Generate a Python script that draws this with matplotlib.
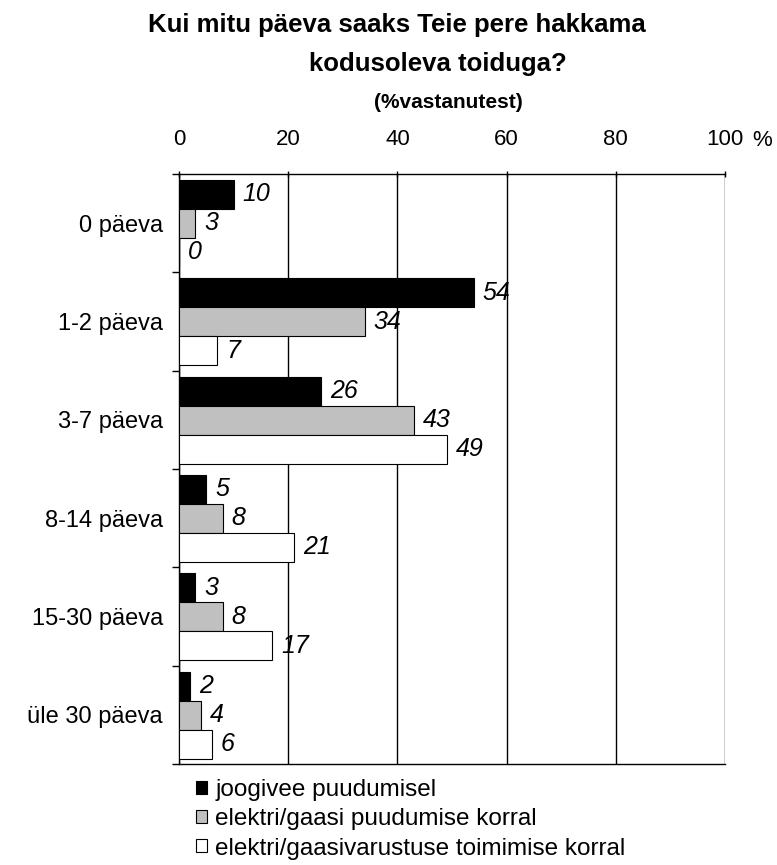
import matplotlib.pyplot as plt
import numpy as np
from matplotlib.patches import Patch

plt.rcParams['font.family'] = ['Liberation Sans', 'DejaVu Sans']

categories = ["0 päeva", "1-2 päeva", "3-7 päeva", "8-14 päeva", "15-30 päeva", "üle 30 päeva"]
series_names = ["joogivee puudumisel",
                "elektri/gaasi puudumise korral",
                "elektri/gaasivarustuse toimimise korral"]
joogivesi = [10, 54, 26, 5, 3, 2]
elekter_puudub = [3, 34, 43, 8, 8, 4]
elekter_toimib = [0, 7, 49, 21, 17, 6]
ticks = [0, 20, 40, 60, 80, 100]


def main():
    fig = plt.figure(figsize=(7.77, 8.65), dpi=100)
    ax = fig.add_axes([0.2304, 0.1168, 0.7027, 0.682])

    series = [joogivesi, elekter_puudub, elekter_toimib]
    colors = ['#000000', '#c0c0c0', '#ffffff']
    n = len(categories)
    h = 0.295
    start = 0.06
    for i, vals in enumerate(series):
        y = np.arange(n) + start + i * h + h / 2
        ax.barh(y, vals, height=h, color=colors[i], edgecolor='#000000', linewidth=0.8,
                zorder=3)
        for yy, v in zip(y, vals):
            ax.annotate(str(v), xy=(v, yy), xytext=(6.5, 0), textcoords='offset points',
                        va='center', ha='left', fontsize=18, style='italic', zorder=4)

    ax.set_xlim(0, 100)
    ax.set_ylim(n, 0)
    ax.xaxis.tick_top()
    ax.set_xticks(ticks)
    ax.set_xticklabels([str(t) for t in ticks], fontsize=16)
    ax.tick_params(axis='x', length=5, width=1, pad=15, direction='inout')
    ax.set_yticks(np.arange(n + 1))
    ax.set_yticklabels([])
    ax.set_yticks(np.arange(n) + 0.5, minor=True)
    ax.set_yticklabels(categories, minor=True, fontsize=17)
    ax.tick_params(axis='y', which='major', length=5, width=1, direction='out')
    ax.tick_params(axis='y', which='minor', length=0, pad=11.5)
    ax.grid(axis='x', color='#000000', linewidth=1, zorder=1)
    for s in ['left', 'right', 'top', 'bottom']:
        ax.spines[s].set_linewidth(1)
    ax.spines['right'].set_visible(False)

    fig.text(762 / 777, 1 - 141 / 865, "%", ha='center', va='center', fontsize=16)
    fig.text(397 / 777, 1 - 25 / 865, "Kui mitu päeva saaks Teie pere hakkama",
             ha='center', va='center', fontsize=18.5, fontweight='bold')
    fig.text(438 / 777, 1 - 64 / 865, "kodusoleva toiduga?",
             ha='center', va='center', fontsize=18.5, fontweight='bold')
    fig.text(448 / 777, 1 - 103 / 865, "(%vastanutest)", ha='center', va='center',
             fontsize=15, fontweight='bold')

    handles = [Patch(facecolor=c, edgecolor='#000000', linewidth=0.8) for c in colors]
    fig.legend(handles, series_names, loc='upper left', bbox_to_anchor=(196 / 777, 1 - 779 / 865),
               frameon=False, fontsize=17.5, handlelength=0.45, handleheight=0.45,
               handletextpad=0.35, labelspacing=0.3, borderaxespad=0, borderpad=0)

    fig.savefig("out.png", dpi=100)


if __name__ == "__main__":
    main()
